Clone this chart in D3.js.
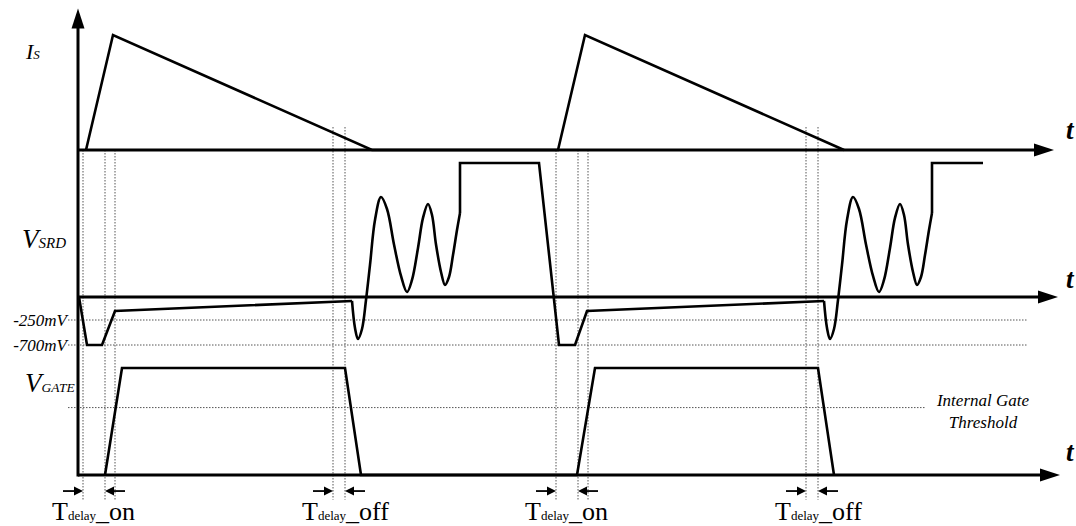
<!DOCTYPE html>
<html>
<head>
<meta charset="utf-8">
<script src="https://cdn.jsdelivr.net/npm/d3@7"></script>
</head>
<body style="margin:0">
<script>
/*
*    SR controller timing: Is, Vsrd, Vgate
*/

var serif = "'Liberation Serif'";

// time axis in arbitrary units, one switching period is 472
var isTime  = [8, 35, 294, 480, 507, 766];
var isValue = [0, 1, 0, 0, 1, 0];

// Vsrd (mV, positive side normalised so the plateau is 1000)
var vsrdTime  = [1, 9, 24, 37,
                 274, 277, 280, 284, 288, 292, 297, 303, 309, 316, 323, 329, 334, 340,
                 345, 350, 354, 358, 363, 367, 371, 375, 379, 382,
                 382, 461, 481, 497, 509,
                 746, 749, 752, 756, 760, 764, 769, 775, 781, 788, 795, 801, 806, 812,
                 817, 822, 826, 830, 835, 839, 843, 847, 851, 854,
                 854, 905];
var vsrdValue = [0, -700, -700, -152,
                 -43, -394, -592, -412, -33, 239, 575, 746, 657, 392, 157, 37, 127, 366,
                 590, 694, 612, 392, 187, 90, 149, 313, 500, 627,
                 1000, 1000, -700, -700, -152,
                 -43, -394, -592, -412, -33, 239, 575, 746, 657, 392, 157, 37, 127, 366,
                 590, 694, 612, 392, 187, 90, 149, 313, 500, 627,
                 1000, 1000];
var ringing = [[4, 27], [33, 56]];   // index ranges drawn smooth

var gateTime  = [27, 44, 267, 283, 499, 517, 740, 756];
var gateValue = [0, 1, 1, 0, 0, 1, 1, 0];
var gateThreshold = 0.63;

var levelValues = [-250, -700];
var levelLabels = ["-250mV", "-700mV"];

var markerTime = [5, 27, 37, 255, 267, 478, 500, 510, 728, 740];
var markerKind = ["on", "on", "on", "off", "off", "on", "on", "on", "off", "off"];

var delayStart = [5, 255, 478, 728];
var delayEnd   = [27, 267, 500, 740];
var delayName  = ["_on", "_off", "_on", "_off"];

var svg = d3.select("body")
    .append("svg")
    .attr("width", 1076)
    .attr("height", 526)
    .style("display", "block");

var x = d3.scaleLinear().domain([0, 980]).range([78, 1058]);
var yIs = d3.scaleLinear().domain([0, 1]).range([150, 35]);
var yV = d3.scaleLinear().domain([-700, -250, 0, 1000]).range([345, 320, 297, 163]);
var yG = d3.scaleLinear().domain([0, 1]).range([475, 368]);

// dotted guide lines
var dotted = svg.append("g")
    .attr("stroke", "#555")
    .attr("stroke-width", 1)
    .attr("stroke-dasharray", "1.5,1.5")
    .attr("fill", "none");

dotted.selectAll("line.mark").data(markerTime).enter()
    .append("line")
        .attr("class", "mark")
        .attr("x1", (d) => { return x(d); })
        .attr("x2", (d) => { return x(d); })
        .attr("y1", (d, i) => { return markerKind[i] == "off" ? yIs(0.2) : yIs(0); })
        .attr("y2", yG(-0.23));

dotted.selectAll("line.level").data(levelValues).enter()
    .append("line")
        .attr("class", "level")
        .attr("x1", x(-10))
        .attr("x2", x(949))
        .attr("y1", (d) => { return yV(d); })
        .attr("y2", (d) => { return yV(d); });

dotted.append("line")
    .attr("x1", x(-10))
    .attr("x2", x(847))
    .attr("y1", yG(gateThreshold))
    .attr("y2", yG(gateThreshold));

// axes
function arrowHead(g, tx, ty, dir, len, half) {
    var p;
    if (dir == "right") p = [[tx, ty], [tx - len, ty - half], [tx - len, ty + half]];
    else if (dir == "left") p = [[tx, ty], [tx + len, ty - half], [tx + len, ty + half]];
    else p = [[tx, ty], [tx - half, ty + len], [tx + half, ty + len]];
    g.append("path")
        .attr("d", "M" + p.join("L") + "Z")
        .attr("fill", "#000");
}

var axes = svg.append("g");
var axisY = [yIs(0), yV(0), yG(0)];
var axisEnd = [976, 980, 982];
axisY.forEach((yy, i) => {
    axes.append("line")
        .attr("x1", x(0)).attr("x2", x(axisEnd[i]) - 18)
        .attr("y1", yy).attr("y2", yy)
        .attr("stroke", "#000").attr("stroke-width", 3);
    arrowHead(axes, x(axisEnd[i]), yy, "right", 20, 6.5);
});
axes.append("line")
    .attr("x1", x(0)).attr("x2", x(0))
    .attr("y1", yG(0) + 1.5).attr("y2", yIs(1.23) + 18)
    .attr("stroke", "#000").attr("stroke-width", 3);
arrowHead(axes, x(0), yIs(1.23), "up", 20, 6.5);

// waveforms
var wave = svg.append("g")
    .attr("fill", "none")
    .attr("stroke", "#000")
    .attr("stroke-width", 2.6)
    .attr("stroke-linejoin", "miter");

var lineIs = d3.line().x((d) => { return x(d[0]); }).y((d) => { return yIs(d[1]); });
wave.append("path")
    .attr("d", lineIs(isTime.map((t, i) => { return [t, isValue[i]]; })));

var pts = vsrdTime.map((t, i) => { return [t, vsrdValue[i]]; });
var cuts = [0];
ringing.forEach((r) => { cuts.push(r[0], r[1]); });
cuts.push(pts.length - 1);
for (var k = 0; k < cuts.length - 1; k++) {
    var seg = pts.slice(cuts[k], cuts[k + 1] + 1);
    var ln = d3.line()
        .x((d) => { return x(d[0]); })
        .y((d) => { return yV(d[1]); })
        .curve(k % 2 == 1 ? d3.curveCatmullRom.alpha(0.5) : d3.curveLinear);
    wave.append("path").attr("d", ln(seg));
}

var lineG = d3.line().x((d) => { return x(d[0]); }).y((d) => { return yG(d[1]); });
wave.append("path")
    .attr("d", lineG(gateTime.map((t, i) => { return [t, gateValue[i]]; })));

// delay arrows and labels
var ann = svg.append("g");
var ay = yG(-0.15);
delayStart.forEach((s, i) => {
    var xs = x(s), xe = x(delayEnd[i]);
    ann.append("line").attr("x1", xs - 20).attr("x2", xs - 8)
        .attr("y1", ay).attr("y2", ay).attr("stroke", "#000").attr("stroke-width", 1.8);
    arrowHead(ann, xs, ay, "right", 9, 4.5);
    ann.append("line").attr("x1", xe + 20).attr("x2", xe + 8)
        .attr("y1", ay).attr("y2", ay).attr("stroke", "#000").attr("stroke-width", 1.8);
    arrowHead(ann, xe, ay, "left", 9, 4.5);

    var t = ann.append("text").attr("x", xs - 31).attr("y", 520)
        .style("font-family", serif);
    t.append("tspan").attr("font-size", 26).style("font-family", serif).text("T");
    t.append("tspan").attr("font-size", 13).style("font-family", serif).text("delay");
    t.append("tspan").attr("font-size", 26).style("font-family", serif).text(delayName[i]);
});

// signal names
function sigLabel(big, small, lx, ly, bigSize, smallSize) {
    var t = svg.append("text").attr("x", lx).attr("y", ly)
        .style("font-family", serif).attr("font-style", "italic");
    t.append("tspan").attr("font-size", bigSize).style("font-family", serif).text(big);
    t.append("tspan").attr("font-size", smallSize).style("font-family", serif).text(small);
}
sigLabel("I", "S", 26, 59, 22, 13);
sigLabel("V", "SRD", 22, 248, 27, 15);
sigLabel("V", "GATE", 25, 392, 27, 13.5);

svg.selectAll("text.level").data(levelLabels).enter()
    .append("text")
        .attr("class", "level")
        .attr("x", 67)
        .attr("y", (d, i) => { return yV(levelValues[i]) + 6; })
        .attr("text-anchor", "end")
        .style("font-family", serif)
        .attr("font-style", "italic")
        .attr("font-size", 17)
        .text((d) => { return d; });

svg.append("text").attr("x", 983).attr("y", 406)
    .attr("text-anchor", "middle").style("font-family", serif)
    .attr("font-style", "italic").attr("font-size", 17)
    .text("Internal Gate");
svg.append("text").attr("x", 983).attr("y", 428)
    .attr("text-anchor", "middle").style("font-family", serif)
    .attr("font-style", "italic").attr("font-size", 17)
    .text("Threshold");

[139, 288, 461].forEach((ty) => {
    svg.append("text").attr("x", 1066).attr("y", ty)
        .style("font-family", serif)
        .attr("font-style", "italic").attr("font-weight", "bold").attr("font-size", 27)
        .text("t");
});
</script>
</body>
</html>
